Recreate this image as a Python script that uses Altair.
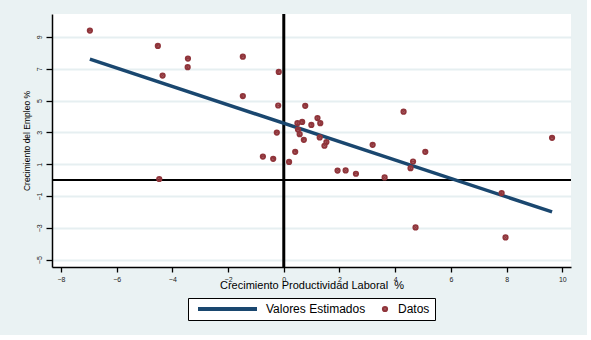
import altair as alt
import pandas as pd

# Data
crec_productividad = [-6.96, -4.52, -3.44, -3.45, -4.35, -1.47, -1.47, -0.18, -0.20, -0.25,
                      -0.75, -0.38, 0.19, 0.41, 0.49, 0.66, 0.51, 0.57, 0.72, 0.77,
                      0.99, 1.21, 1.31, 1.29, 1.53, 1.46, 1.93, 2.22, 2.59, 3.19,
                      3.62, 4.30, 4.55, 4.64, 5.08, 4.73, 7.82, 7.96, 9.63, -4.47]
crec_empleo = [9.40, 8.43, 7.64, 7.10, 6.57, 7.76, 5.28, 6.80, 4.69, 2.99,
               1.48, 1.34, 1.14, 1.78, 3.58, 3.66, 3.18, 2.89, 2.53, 4.67,
               3.47, 3.90, 3.58, 2.68, 2.39, 2.16, 0.60, 0.61, 0.40, 2.22,
               0.17, 4.30, 0.75, 1.17, 1.78, -2.97, -0.81, -3.60, 2.66, 0.07]
x_ticks = [-8, -6, -4, -2, 0, 2, 4, 6, 8, 10]
y_ticks = [-5, -3, -1, 1, 3, 5, 7, 9]
x_domain = [-8.32, 10.31]
y_domain = [-5.46, 10.44]
lineas_ref = [0]
series = ["Valores Estimados", "Datos"]
colores = ["#1A476F", "#90353B"]
formas = ["stroke", "circle"]
tamanos = [3481, 5]

df = pd.DataFrame({"x": crec_productividad, "y": crec_empleo})
ref_df = pd.DataFrame({"x": lineas_ref, "y": lineas_ref})

FONT = "Liberation Sans"

xscale = alt.Scale(domain=x_domain, nice=False, zero=False)
yscale = alt.Scale(domain=y_domain, nice=False, zero=False)

xaxis = alt.Axis(values=x_ticks, title="Crecimiento Productividad Laboral \u00a0%", grid=False,
                 domainColor="black", domainWidth=1.5, tickColor="black", tickWidth=1.3,
                 tickSize=5, labelFont=FONT, labelFontSize=7, labelColor="#222222",
                 labelPadding=3, labelFlush=False, labelOverlap=False,
                 titleFont=FONT, titleFontSize=11, titleFontWeight="normal",
                 titleColor="black", titleY=21, titleBaseline="alphabetic")
yaxis = alt.Axis(values=y_ticks, title="Crecimiento del Empleo %", grid=True,
                 gridColor="#E6EFF1", gridWidth=2,
                 domainColor="black", domainWidth=1.5, tickColor="black", tickWidth=1.3,
                 tickSize=6, labelAngle=270, labelAlign="center", labelBaseline="alphabetic",
                 labelPadding=5, labelFont=FONT, labelFontSize=7, labelColor="#222222",
                 labelOverlap=False, labelFlush=False,
                 titleFont=FONT, titleFontSize=8.5, titleFontWeight="normal",
                 titleColor="black", titleAngle=270, titleX=-23, titleBaseline="alphabetic")

X = alt.X("x:Q", scale=xscale, axis=xaxis)
Y = alt.Y("y:Q", scale=yscale, axis=yaxis)

legend = alt.Legend(
    title=None, orient="none", legendX=136, legendY=284, direction="horizontal",
    fillColor="white", strokeColor="black", padding=5, clipHeight=12,
    columnPadding=10, labelOffset=7, symbolOffset=3, symbolStrokeWidth=4,
    labelFont=FONT, labelFontSize=12, labelColor="black",
)
color = alt.Color("serie:N", scale=alt.Scale(domain=series, range=colores), legend=legend)
shape = alt.Shape("serie:N", scale=alt.Scale(domain=series, range=formas), legend=legend)
size = alt.Size("serie:N", scale=alt.Scale(domain=series, range=tamanos), legend=legend)

vrule = alt.Chart(ref_df).mark_rule(color="black", strokeWidth=3).encode(x=X)
hrule = alt.Chart(ref_df).mark_rule(color="black", strokeWidth=2).encode(y=Y)

line = (alt.Chart(df)
        .transform_regression("x", "y")
        .transform_calculate(serie="'Valores Estimados'")
        .mark_line(strokeWidth=3.5)
        .encode(x=X, y=Y, color=color))

points = (alt.Chart(df)
          .transform_calculate(serie="'Datos'")
          .mark_point(filled=True, opacity=1, stroke=colores[1], strokeWidth=4)
          .encode(x=X, y=Y, color=color, shape=shape, size=size))

chart = (alt.layer(vrule, hrule, line, points)
         .properties(width=519, height=253,
                     padding={"left": 52, "top": 14, "right": 16, "bottom": 68},
                     autosize=alt.AutoSizeParams(type="none"),
                     background="#EAF2F3")
         .configure_view(fill="white", strokeWidth=0))

chart.save("out.html", embed_options={"renderer": "svg", "actions": False})
